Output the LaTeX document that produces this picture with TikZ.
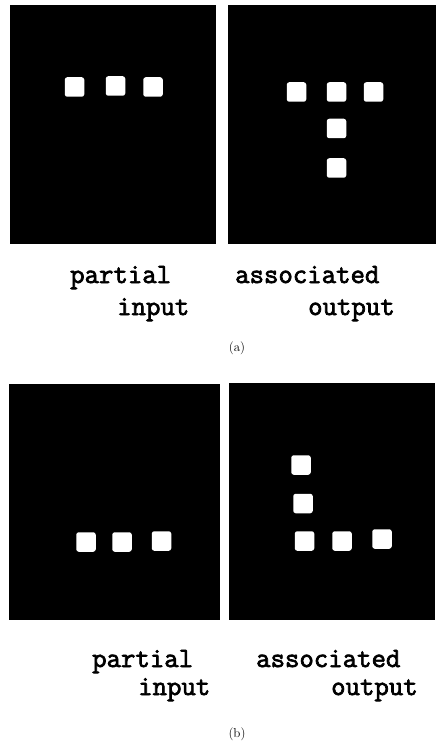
\documentclass[tikz,border=0pt]{standalone}
\usepackage{fontspec}
\newfontfamily\dotfont[FakeBold=2.5]{Latin Modern Mono}
\begin{document}
\begin{tikzpicture}[x=1pt,y=-1pt,
  pixel/.style={fill=white,rounded corners=2.5pt,minimum size=19.5pt,inner sep=0pt},
  caption/.style={font=\dotfont\fontsize{28}{28}\selectfont,anchor=base west,inner sep=0pt},
  tag/.style={font=\fontsize{13}{13}\selectfont,inner sep=0pt}]
\useasboundingbox (0,0) rectangle (436,743);
% (a) partial input and associated output
\fill[black] (10,5) rectangle (216,244);
\fill[black] (228,5) rectangle (436,244);
\node[pixel] (ainA) at (74.5,87) {};
\node[pixel] (ainB) at (115.5,86) {};
\node[pixel] (ainC) at (153,87) {};
\node[pixel] (aoutA) at (296.5,92) {};
\node[pixel] (aoutB) at (336.5,92) {};
\node[pixel] (aoutC) at (373.5,92) {};
\node[pixel] (aoutD) at (336.5,128.5) {};
\node[pixel] (aoutE) at (336.5,168) {};
\node[caption] (apartial) at (70,283) {partial};
\node[caption] (ainput) at (117,315) {input};
\node[caption] (aassoc) at (235,283) {associated};
\node[caption] (aoutput) at (308,315) {output};
\node[tag] (alabel) at (237,348) {(a)};
% (b) partial input and associated output
\fill[black] (9,384) rectangle (220,620);
\fill[black] (229,383) rectangle (435,620);
\node[pixel] (binA) at (86,542) {};
\node[pixel] (binB) at (122,542) {};
\node[pixel] (binC) at (161.5,541) {};
\node[pixel] (boutA) at (301,465) {};
\node[pixel] (boutB) at (303,503.5) {};
\node[pixel] (boutC) at (304.5,541) {};
\node[pixel] (boutD) at (342,541) {};
\node[pixel] (boutE) at (382,539) {};
\node[caption] (bpartial) at (92,667) {partial};
\node[caption] (binput) at (138,695) {input};
\node[caption] (bassoc) at (256,667) {associated};
\node[caption] (boutput) at (331,695) {output};
\node[tag] (blabel) at (237,734) {(b)};
\end{tikzpicture}
\end{document}
